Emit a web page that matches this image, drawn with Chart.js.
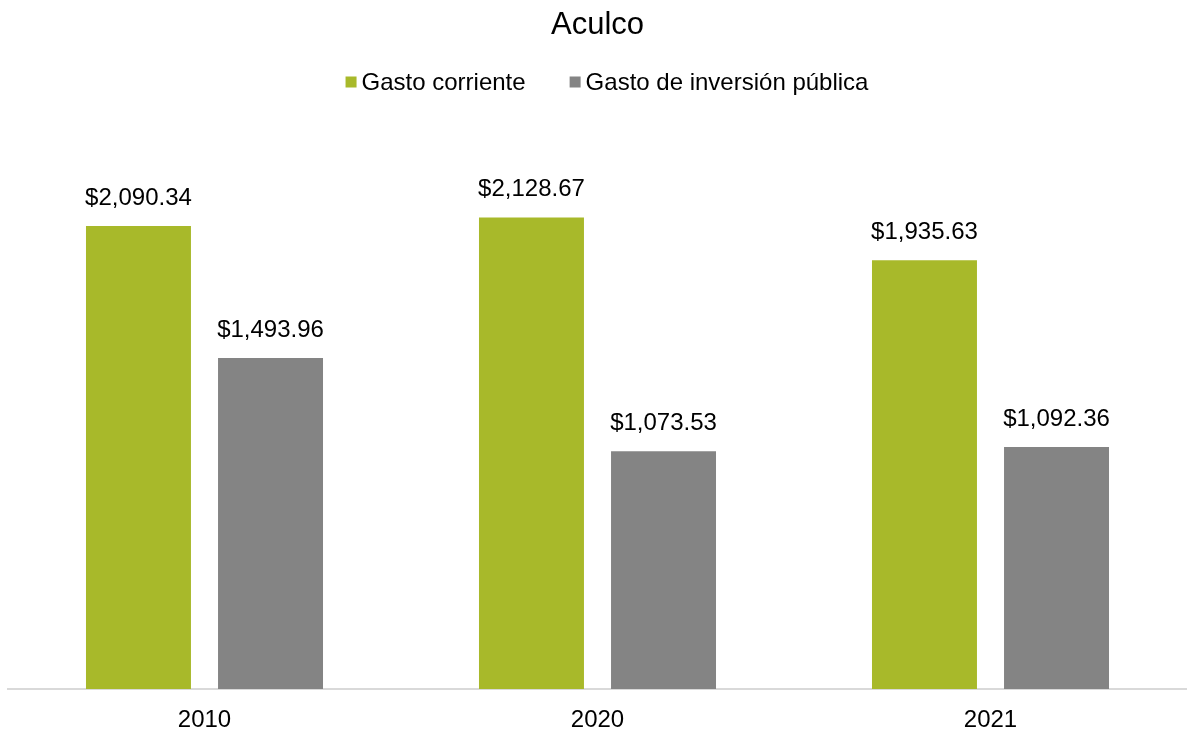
<!DOCTYPE html>
<html>
<head>
<meta charset="utf-8">
<title>Aculco</title>
<script src="https://cdn.jsdelivr.net/npm/chart.js@4/dist/chart.umd.min.js"></script>
<style>
  html, body { margin: 0; padding: 0; background: #fff; }
  #wrap { width: 1187px; height: 731px; }
</style>
</head>
<body>
<div id="wrap"><canvas id="gastoChart"></canvas></div>
<script>
// Chart data
const years = ["2010", "2020", "2021"];
const gastoCorriente = [2090.34, 2128.67, 1935.63];
const gastoInversion = [1493.96, 1073.53, 1092.36];
const seriesNames = ["Gasto corriente", "Gasto de inversión pública"];

const fontFamily = "'Liberation Sans', Arial, sans-serif";

const money = v => "$" + v.toLocaleString("en-US", { minimumFractionDigits: 2, maximumFractionDigits: 2 });

// value labels above each bar
const barLabels = {
    id: "barLabels",
    afterDatasetsDraw(chart) {
        const ctx = chart.ctx;
        ctx.save();
        ctx.font = "24px " + fontFamily;
        ctx.fillStyle = "#000";
        ctx.textAlign = "center";
        ctx.textBaseline = "middle";
        chart.data.datasets.forEach((ds, i) => {
            chart.getDatasetMeta(i).data.forEach((bar, j) => {
                ctx.fillText(money(ds.data[j]), bar.x, bar.y - 28);
            });
        });
        ctx.restore();
    }
};

// legend drawn by hand so the spacing matches (small square right next to the text)
const simpleLegend = {
    id: "simpleLegend",
    afterDraw(chart) {
        const ctx = chart.ctx;
        const box = 11, gap = 5, itemGap = 44, y = 82;
        ctx.save();
        ctx.font = "24px " + fontFamily;
        ctx.textBaseline = "middle";
        ctx.textAlign = "left";
        const widths = chart.data.datasets.map(ds => ctx.measureText(ds.label).width);
        const total = widths.reduce((a, w) => a + box + gap + w, 0) + itemGap * (widths.length - 1);
        let x = 607 - total / 2;
        chart.data.datasets.forEach((ds, i) => {
            ctx.fillStyle = ds.backgroundColor;
            ctx.fillRect(x, y - box / 2, box, box);
            x += box + gap;
            ctx.fillStyle = "#000";
            ctx.fillText(ds.label, x, y + 1);
            x += widths[i] + itemGap;
        });
        ctx.restore();
    }
};

new Chart(document.getElementById("gastoChart"), {
    type: "bar",
    data: {
        labels: years,
        datasets: [
            {
                label: seriesNames[0],
                data: gastoCorriente,
                backgroundColor: "#a8b92a",
                categoryPercentage: 0.672,
                barPercentage: 0.795
            },
            {
                label: seriesNames[1],
                data: gastoInversion,
                backgroundColor: "#848484",
                categoryPercentage: 0.672,
                barPercentage: 0.795
            }
        ]
    },
    options: {
        responsive: true,
        maintainAspectRatio: false,
        animation: false,
        layout: { padding: { left: 8, right: 0, top: 0, bottom: -20 } },
        plugins: {
            title: {
                display: true,
                text: "Aculco",
                color: "#000",
                font: { family: fontFamily, size: 31, weight: "normal" },
                padding: { top: 7, bottom: 91 }
            },
            legend: { display: false },
            tooltip: { enabled: false }
        },
        scales: {
            y: {
                display: false,
                min: 0,
                max: 2500
            },
            x: {
                grid: { display: false, drawTicks: false },
                border: { display: true, color: "#d9d9d9", width: 2 },
                ticks: {
                    color: "#000",
                    font: { family: fontFamily, size: 24, lineHeight: 1 },
                    padding: 19
                }
            }
        }
    },
    plugins: [barLabels, simpleLegend]
});
</script>
</body>
</html>
